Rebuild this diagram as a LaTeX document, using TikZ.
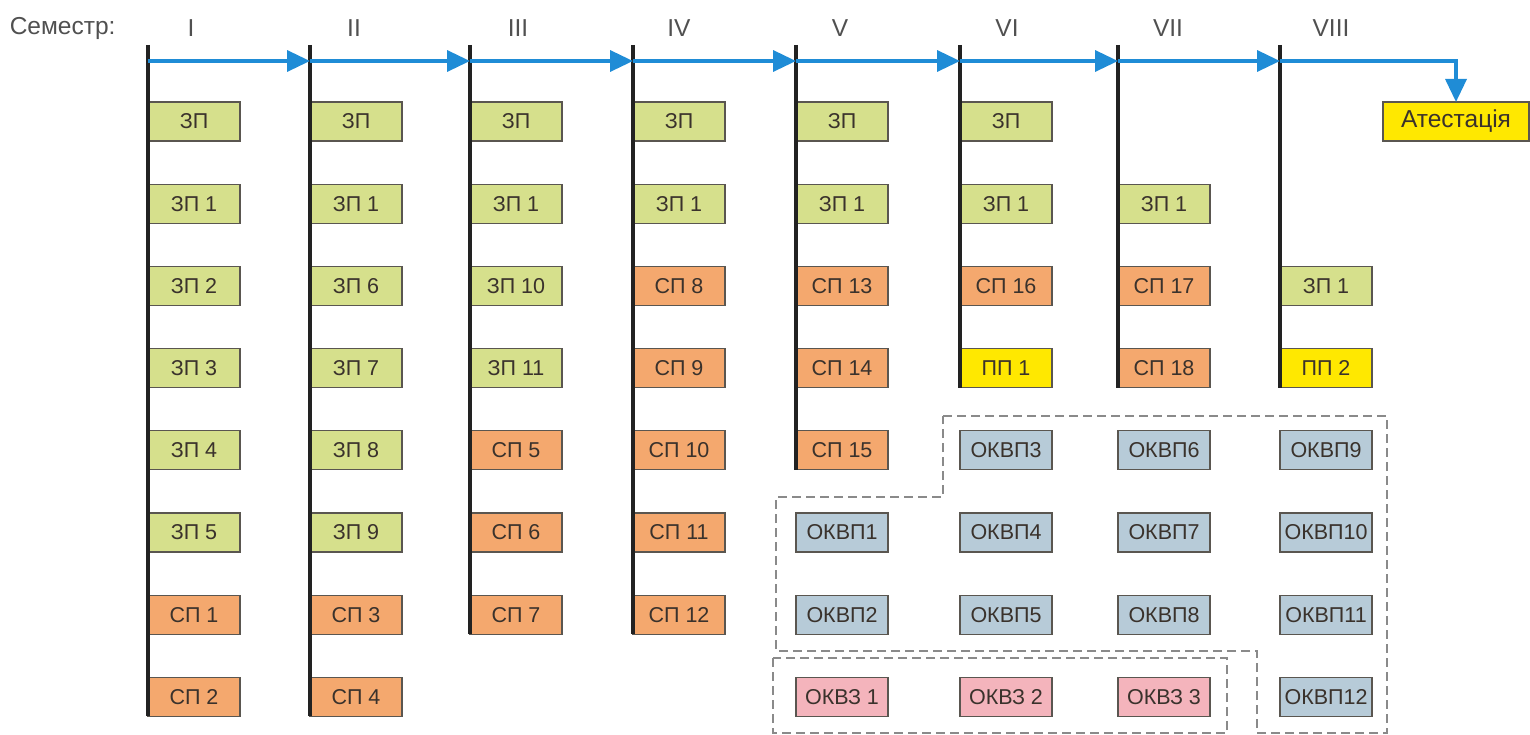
\documentclass[tikz,border=0pt]{standalone}
\usepackage{fontspec}
\setmainfont{Liberation Sans}
\usetikzlibrary{arrows.meta, positioning}
\definecolor{zpcol}{HTML}{D6E08C}
\definecolor{spcol}{HTML}{F4A86E}
\definecolor{ppcol}{HTML}{FFE800}
\definecolor{okvpcol}{HTML}{B7CBD8}
\definecolor{okvzcol}{HTML}{F4B4BC}
\definecolor{boxline}{HTML}{5A5650}
\definecolor{boxtext}{HTML}{3A322C}
\definecolor{headtext}{HTML}{505050}
\definecolor{semcol}{HTML}{222222}
\definecolor{flowcol}{HTML}{1F8CD6}
\definecolor{dashcol}{HTML}{8A8A8A}

\begin{document}
\begin{tikzpicture}[x=1pt, y=-1pt,
      box/.style={draw=boxline, line width=1.1pt, minimum width=92pt, minimum height=39pt, inner sep=0pt, outer sep=0pt, text=boxtext, font=\fontsize{21.5}{24}\selectfont},
      zp/.style={box, fill=zpcol},
      sp/.style={box, fill=spcol},
      pp/.style={box, fill=ppcol},
      okvp/.style={box, fill=okvpcol},
      okvz/.style={box, fill=okvzcol},
      head/.style={font=\fontsize{24.5}{27}\selectfont, text=headtext},
      semline/.style={draw=semcol, line width=4.5pt},
      flow/.style={draw=flowcol, line width=3.5pt, -{Triangle[length=23pt, width=21pt]}},
      group/.style={draw=dashcol, line width=1.2pt, dash pattern=on 9pt off 5pt},
      node distance=43.2pt
    ]
    \useasboundingbox (0,0) rectangle (1530,735);

    \node[head, anchor=east] (sem) at (119,28) {Семестр:};
    \node[head] (s1) at (191,28) {I};
    \node[head] (s2) at (354,28) {II};
    \node[head] (s3) at (518,28) {III};
    \node[head] (s4) at (679,28) {IV};
    \node[head] (s5) at (840,28) {V};
    \node[head] (s6) at (1007,28) {VI};
    \node[head] (s7) at (1168,28) {VII};
    \node[head] (s8) at (1331,28) {VIII};

    \node[zp, anchor=west] (zpI) at (148,121.5) {ЗП};
    \node[zp, below=of zpI] (zp1I) {ЗП 1};
    \node[zp, below=of zp1I] (zp2) {ЗП 2};
    \node[zp, below=of zp2] (zp3) {ЗП 3};
    \node[zp, below=of zp3] (zp4) {ЗП 4};
    \node[zp, below=of zp4] (zp5) {ЗП 5};
    \node[sp, below=of zp5] (sp1) {СП 1};
    \node[sp, below=of sp1] (sp2) {СП 2};

    \node[zp, anchor=west] (zpII) at (310,121.5) {ЗП};
    \node[zp, below=of zpII] (zp1II) {ЗП 1};
    \node[zp, below=of zp1II] (zp6) {ЗП 6};
    \node[zp, below=of zp6] (zp7) {ЗП 7};
    \node[zp, below=of zp7] (zp8) {ЗП 8};
    \node[zp, below=of zp8] (zp9) {ЗП 9};
    \node[sp, below=of zp9] (sp3) {СП 3};
    \node[sp, below=of sp3] (sp4) {СП 4};

    \node[zp, anchor=west] (zpIII) at (470,121.5) {ЗП};
    \node[zp, below=of zpIII] (zp1III) {ЗП 1};
    \node[zp, below=of zp1III] (zp10) {ЗП 10};
    \node[zp, below=of zp10] (zp11) {ЗП 11};
    \node[sp, below=of zp11] (sp5) {СП 5};
    \node[sp, below=of sp5] (sp6) {СП 6};
    \node[sp, below=of sp6] (sp7) {СП 7};

    \node[zp, anchor=west] (zpIV) at (633,121.5) {ЗП};
    \node[zp, below=of zpIV] (zp1IV) {ЗП 1};
    \node[sp, below=of zp1IV] (sp8) {СП 8};
    \node[sp, below=of sp8] (sp9) {СП 9};
    \node[sp, below=of sp9] (sp10) {СП 10};
    \node[sp, below=of sp10] (sp11) {СП 11};
    \node[sp, below=of sp11] (sp12) {СП 12};

    \node[zp, anchor=west] (zpV) at (796,121.5) {ЗП};
    \node[zp, below=of zpV] (zp1V) {ЗП 1};
    \node[sp, below=of zp1V] (sp13) {СП 13};
    \node[sp, below=of sp13] (sp14) {СП 14};
    \node[sp, below=of sp14] (sp15) {СП 15};
    \node[okvp, below=of sp15] (okvp1) {ОКВП1};
    \node[okvp, below=of okvp1] (okvp2) {ОКВП2};
    \node[okvz, below=of okvp2] (okvz1) {ОКВЗ 1};

    \node[zp, anchor=west] (zpVI) at (960,121.5) {ЗП};
    \node[zp, below=of zpVI] (zp1VI) {ЗП 1};
    \node[sp, below=of zp1VI] (sp16) {СП 16};
    \node[pp, below=of sp16] (pp1) {ПП 1};
    \node[okvp, below=of pp1] (okvp3) {ОКВП3};
    \node[okvp, below=of okvp3] (okvp4) {ОКВП4};
    \node[okvp, below=of okvp4] (okvp5) {ОКВП5};
    \node[okvz, below=of okvp5] (okvz2) {ОКВЗ 2};

    \node[zp, anchor=west] (zp1VII) at (1118,203.7) {ЗП 1};
    \node[sp, below=of zp1VII] (sp17) {СП 17};
    \node[sp, below=of sp17] (sp18) {СП 18};
    \node[okvp, below=of sp18] (okvp6) {ОКВП6};
    \node[okvp, below=of okvp6] (okvp7) {ОКВП7};
    \node[okvp, below=of okvp7] (okvp8) {ОКВП8};
    \node[okvz, below=of okvp8] (okvz3) {ОКВЗ 3};

    \node[zp, anchor=west] (zp1VIII) at (1280,285.9) {ЗП 1};
    \node[pp, below=of zp1VIII] (pp2) {ПП 2};
    \node[okvp, below=of pp2] (okvp9) {ОКВП9};
    \node[okvp, below=of okvp9] (okvp10) {ОКВП10};
    \node[okvp, below=of okvp10] (okvp11) {ОКВП11};
    \node[okvp, below=of okvp11] (okvp12) {ОКВП12};

    \node[pp, minimum width=146pt, font=\fontsize{24.5}{27}\selectfont] (att) at (1456,121.5) {Атестація};

    \coordinate (t1) at (148,45);
    \coordinate (t2) at (310,45);
    \coordinate (t3) at (470,45);
    \coordinate (t4) at (633,45);
    \coordinate (t5) at (796,45);
    \coordinate (t6) at (960,45);
    \coordinate (t7) at (1118,45);
    \coordinate (t8) at (1280,45);
    \draw[semline] (t1) -- (sp2.south west);
    \draw[semline] (t2) -- (sp4.south west);
    \draw[semline] (t3) -- (sp7.south west);
    \draw[semline] (t4) -- (sp12.south west);
    \draw[semline] (t5) -- (sp15.south west);
    \draw[semline] (t6) -- (pp1.south west);
    \draw[semline] (t7) -- (sp18.south west);
    \draw[semline] (t8) -- (pp2.south west);

    \coordinate (a1) at (148,61);
    \coordinate (a2) at (310,61);
    \coordinate (a3) at (470,61);
    \coordinate (a4) at (633,61);
    \coordinate (a5) at (796,61);
    \coordinate (a6) at (960,61);
    \coordinate (a7) at (1118,61);
    \coordinate (a8) at (1280,61);
    \draw[flow] (a1) -- (a2);
    \draw[flow] (a2) -- (a3);
    \draw[flow] (a3) -- (a4);
    \draw[flow] (a4) -- (a5);
    \draw[flow] (a5) -- (a6);
    \draw[flow] (a6) -- (a7);
    \draw[flow] (a7) -- (a8);
    \draw[flow] (a8) -| (att.north);

    \draw[group] (943,416) -- (1387,416) -- (1387,733) -- (1257,733) -- (1257,651) -- (776,651) -- (776,497) -- (943,497) -- cycle;
    \draw[group] (773,658) rectangle (1227,733);
  \end{tikzpicture}
\end{document}
